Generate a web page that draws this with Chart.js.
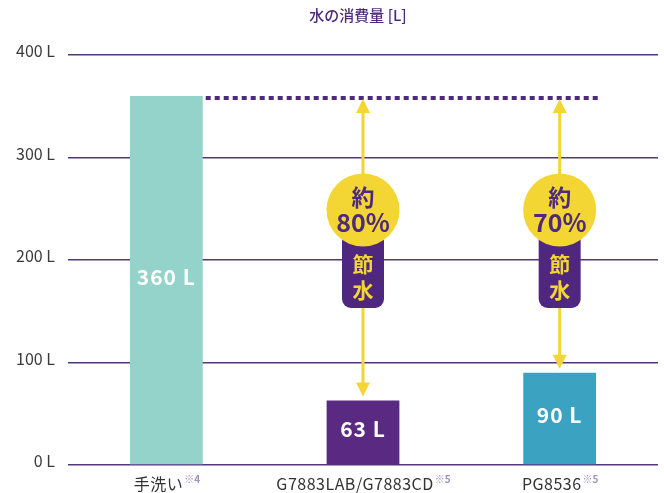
<!DOCTYPE html>
<html>
<head>
<meta charset="utf-8">
<script src="https://cdn.jsdelivr.net/npm/chart.js@4"></script>
<style>
  html, body { margin: 0; padding: 0; background: #fff; }
  #wrap { width: 664px; height: 493px; }
</style>
</head>
<body>
<div id="wrap"><canvas id="waterChart" width="664" height="493"></canvas></div>
<script>
// データ
const categories = ['手洗い', 'G7883LAB/G7883CD', 'PG8536'];
const notes = ['※4', '※5', '※5'];
const usage = [360, 63, 90];
const valueLabels = ['360 L', '63 L', '90 L'];
const savingTexts = [null, ['約', '80%'], ['約', '70%']];
const yTicks = [0, 100, 200, 300, 400];

const FONT = '"Noto Sans CJK JP", "Noto Sans", sans-serif';
const PURPLE = '#4d2a7c';
const YELLOW = '#f3d633';

// 値ラベル・矢印・注釈
const overlayPlugin = {
    id: 'overlay',
    afterDatasetsDraw(chart) {
        const c = chart.ctx;
        const x = chart.scales.x;
        const y = chart.scales.y;
        const meta = chart.getDatasetMeta(0);

        // 点線 (手洗いの高さ)
        const topY = y.getPixelForValue(usage[0]) + 2;
        c.save();
        c.strokeStyle = PURPLE;
        c.lineWidth = 4;
        c.setLineDash([5, 4]);
        c.beginPath();
        c.moveTo(meta.data[0].x + meta.data[0].width / 2 + 3, topY);
        c.lineTo(meta.data[2].x + meta.data[2].width / 2 + 5, topY);
        c.stroke();
        c.restore();

        // 棒の中の数値
        c.save();
        c.fillStyle = '#fff';
        c.font = 'bold 21px ' + FONT;
        c.letterSpacing = '1px';
        c.textAlign = 'center';
        c.textBaseline = 'middle';
        meta.data.forEach((bar, i) => {
            c.fillText(valueLabels[i], bar.x, (bar.y + bar.base) / 2 - 3);
        });
        c.restore();

        // 矢印と節水バッジ
        savingTexts.forEach((txt, i) => {
            if (!txt) return;
            const cx = x.getPixelForValue(i);
            const y1 = topY + 1;
            const y2 = y.getPixelForValue(usage[i]) - 4;
            c.save();
            c.strokeStyle = YELLOW;
            c.fillStyle = YELLOW;
            c.lineWidth = 3;
            c.beginPath();
            c.moveTo(cx, y1 + 10);
            c.lineTo(cx, y2 - 10);
            c.stroke();
            // 上向き
            c.beginPath();
            c.moveTo(cx, y1);
            c.lineTo(cx - 7, y1 + 14);
            c.lineTo(cx + 7, y1 + 14);
            c.closePath();
            c.fill();
            // 下向き
            c.beginPath();
            c.moveTo(cx, y2);
            c.lineTo(cx - 7, y2 - 14);
            c.lineTo(cx + 7, y2 - 14);
            c.closePath();
            c.fill();

            // 節水 (紫の角丸)
            const cy = 210;
            c.fillStyle = '#50277f';
            c.beginPath();
            c.roundRect(cx - 21, cy + 20, 42, 78, 9);
            c.fill();
            c.fillStyle = YELLOW;
            c.font = 'bold 21px ' + FONT;
            c.textAlign = 'center';
            c.textBaseline = 'middle';
            c.fillText('節', cx, 264);
            c.fillText('水', cx, 290);

            // 円
            c.fillStyle = YELLOW;
            c.beginPath();
            c.arc(cx, cy, 36.5, 0, Math.PI * 2);
            c.fill();
            c.fillStyle = PURPLE;
            c.font = 'bold 23px ' + FONT;
            c.fillText(txt[0], cx, cy - 13);
            c.font = 'bold 25px ' + FONT;
            c.fillText(txt[1], cx, cy + 12);
            c.restore();
        });
    },
    afterDraw(chart) {
        const c = chart.ctx;
        const x = chart.scales.x;
        const area = chart.chartArea;
        c.save();
        // タイトル
        c.fillStyle = PURPLE;
        c.font = '500 15px ' + FONT;
        c.textAlign = 'center';
        c.textBaseline = 'middle';
        c.fillText('水の消費量 [L]', (area.left + area.right) / 2 - 5, 15);

        // X軸ラベル (注記つき)
        categories.forEach((cat, i) => {
            const cx = x.getPixelForValue(i);
            c.letterSpacing = '0.5px';
            c.font = '16px ' + FONT;
            const w1 = c.measureText(cat).width;
            c.letterSpacing = '0px';
            c.font = 'bold 10px ' + FONT;
            const w2 = c.measureText(notes[i]).width;
            const start = cx - (w1 + w2) / 2;
            c.textAlign = 'left';
            c.textBaseline = 'middle';
            c.fillStyle = '#333';
            c.letterSpacing = '0.5px';
            c.font = '16px ' + FONT;
            c.fillText(cat, start, 484);
            c.letterSpacing = '0px';
            c.fillStyle = '#a58cc0';
            c.font = 'bold 10px ' + FONT;
            c.fillText(notes[i], start + w1 + 1, 479);
        });
        c.restore();
    }
};

new Chart(document.getElementById('waterChart').getContext('2d'), {
    type: 'bar',
    data: {
        labels: categories,
        datasets: [{
            data: usage,
            backgroundColor: ['#93d3c9', '#5a2a83', '#3ba3c1'],
            barPercentage: 0.37,
            categoryPercentage: 1
        }]
    },
    options: {
        responsive: false,
        animation: false,
        layout: { padding: { top: 55, right: 6, bottom: 20, left: 0 } },
        plugins: {
            legend: { display: false },
            tooltip: { enabled: false }
        },
        scales: {
            x: {
                ticks: { display: false },
                grid: { display: false },
                border: { display: false }
            },
            y: {
                min: 0,
                max: 400,
                afterFit(scale) { scale.width = 68; },
                afterBuildTicks(scale) { scale.ticks = yTicks.map(v => ({ value: v })); },
                ticks: {
                    padding: 13,
                    labelOffset: -4,
                    color: '#3a3a3a',
                    font: { family: FONT, size: 16 },
                    callback: v => v + ' L'
                },
                grid: { color: '#553582', lineWidth: 1.6, drawTicks: false },
                border: { display: false }
            }
        }
    },
    plugins: [overlayPlugin]
});
</script>
</body>
</html>
